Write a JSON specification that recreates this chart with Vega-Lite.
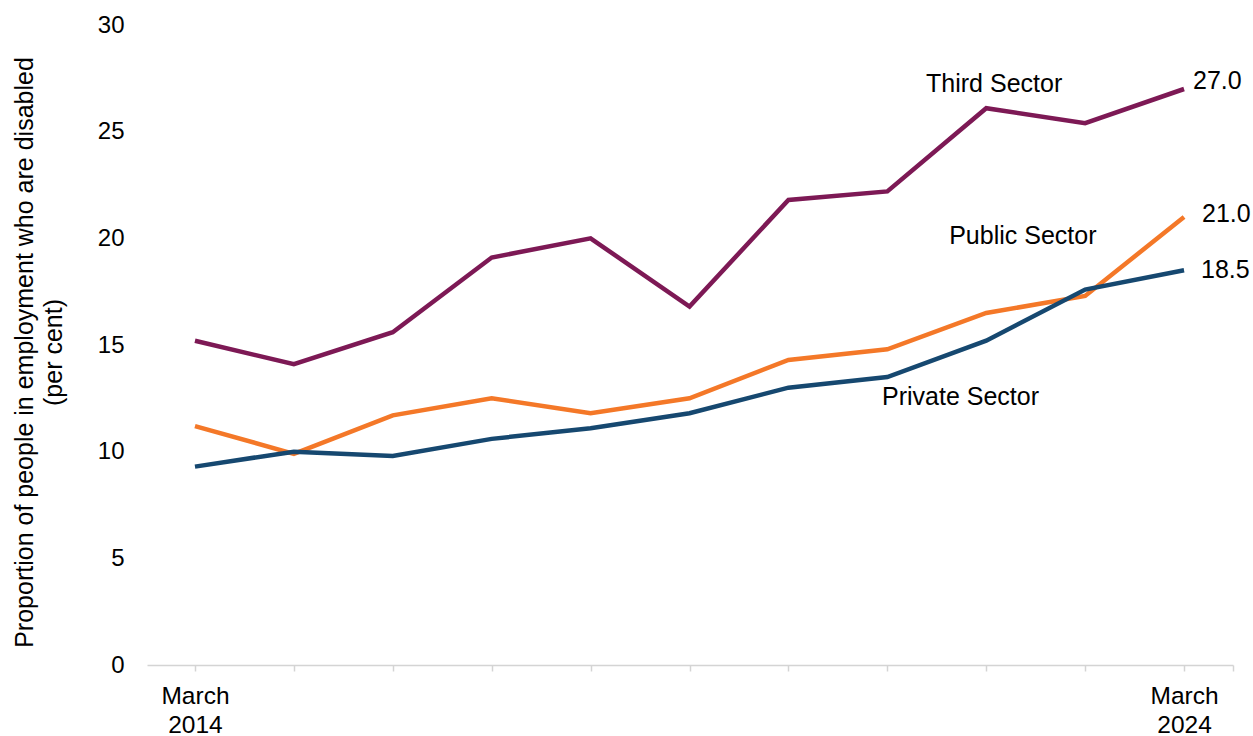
{
  "$schema": "https://vega.github.io/schema/vega-lite/v6.json",
  "width": 1086,
  "height": 640,
  "autosize": {"type": "none"},
  "padding": {"left": 147, "top": 25, "right": 20, "bottom": 71},
  "background": "white",
  "config": {
    "view": {"stroke": null},
    "font": "Liberation Sans",
    "axis": {"grid": false}
  },
  "datasets": {
    "series": [
      {"year": 2014, "sector": "Third Sector", "value": 15.2},
      {"year": 2015, "sector": "Third Sector", "value": 14.1},
      {"year": 2016, "sector": "Third Sector", "value": 15.6},
      {"year": 2017, "sector": "Third Sector", "value": 19.1},
      {"year": 2018, "sector": "Third Sector", "value": 20.0},
      {"year": 2019, "sector": "Third Sector", "value": 16.8},
      {"year": 2020, "sector": "Third Sector", "value": 21.8},
      {"year": 2021, "sector": "Third Sector", "value": 22.2},
      {"year": 2022, "sector": "Third Sector", "value": 26.1},
      {"year": 2023, "sector": "Third Sector", "value": 25.4},
      {"year": 2024, "sector": "Third Sector", "value": 27.0},
      {"year": 2014, "sector": "Public Sector", "value": 11.2},
      {"year": 2015, "sector": "Public Sector", "value": 9.9},
      {"year": 2016, "sector": "Public Sector", "value": 11.7},
      {"year": 2017, "sector": "Public Sector", "value": 12.5},
      {"year": 2018, "sector": "Public Sector", "value": 11.8},
      {"year": 2019, "sector": "Public Sector", "value": 12.5},
      {"year": 2020, "sector": "Public Sector", "value": 14.3},
      {"year": 2021, "sector": "Public Sector", "value": 14.8},
      {"year": 2022, "sector": "Public Sector", "value": 16.5},
      {"year": 2023, "sector": "Public Sector", "value": 17.3},
      {"year": 2024, "sector": "Public Sector", "value": 21.0},
      {"year": 2014, "sector": "Private Sector", "value": 9.3},
      {"year": 2015, "sector": "Private Sector", "value": 10.0},
      {"year": 2016, "sector": "Private Sector", "value": 9.8},
      {"year": 2017, "sector": "Private Sector", "value": 10.6},
      {"year": 2018, "sector": "Private Sector", "value": 11.1},
      {"year": 2019, "sector": "Private Sector", "value": 11.8},
      {"year": 2020, "sector": "Private Sector", "value": 13.0},
      {"year": 2021, "sector": "Private Sector", "value": 13.5},
      {"year": 2022, "sector": "Private Sector", "value": 15.2},
      {"year": 2023, "sector": "Private Sector", "value": 17.6},
      {"year": 2024, "sector": "Private Sector", "value": 18.5}
    ],
    "names": [
      {"label": "Third Sector", "year": 2022.08, "value": 26.86},
      {"label": "Public Sector", "year": 2022.37, "value": 19.73},
      {"label": "Private Sector", "year": 2021.74, "value": 12.19}
    ]
  },
  "layer": [
    {
      "data": {"name": "series"},
      "mark": {"type": "line", "strokeWidth": 4.5, "strokeJoin": "miter"},
      "encoding": {
        "x": {
          "field": "year",
          "type": "quantitative",
          "scale": {"domain": [2013.515, 2024.495], "nice": false, "zero": false},
          "axis": {
            "title": null,
            "values": [2014, 2015, 2016, 2017, 2018, 2019, 2020, 2021, 2022, 2023, 2024, 2024.495],
            "labelExpr": "datum.value == 2014 ? ['March', '2014'] : datum.value == 2024 ? ['March', '2024'] : ''",
            "domainColor": "#d4d4d4",
            "domainWidth": 1.5,
            "tickColor": "#d4d4d4",
            "tickWidth": 1.5,
            "tickSize": 6,
            "labelPadding": 13,
            "labelBaseline": "top",
            "labelLineHeight": 29,
            "labelFontSize": 24.5,
            "labelColor": "#000000",
            "labelOverlap": false,
            "labelFlush": false
          }
        },
        "y": {
          "field": "value",
          "type": "quantitative",
          "scale": {"domain": [0, 30], "nice": false},
          "axis": {
            "values": [0, 5, 10, 15, 20, 25, 30],
            "domain": false,
            "ticks": false,
            "tickSize": 0,
            "labelPadding": 23,
            "labelFontSize": 24,
            "labelColor": "#000000",
            "title": ["Proportion of people in employment who are disabled", "(per cent)"],
            "titleFontSize": 25,
            "titleFontWeight": "normal",
            "titleColor": "#000000",
            "titleAngle": -90,
            "titleBaseline": "alphabetic",
            "titleAlign": "center",
            "titleLineHeight": 29,
            "titleX": -115,
            "titleY": 327
          }
        },
        "color": {
          "field": "sector",
          "type": "nominal",
          "scale": {
            "domain": ["Third Sector", "Public Sector", "Private Sector"],
            "range": ["#7D1955", "#F47828", "#164870"]
          },
          "legend": null
        }
      }
    },
    {
      "data": {"name": "series"},
      "transform": [{"filter": "datum.year == 2024 && datum.sector == 'Third Sector'"}],
      "mark": {"type": "text", "align": "left", "baseline": "middle", "dx": 9, "dy": -8, "fontSize": 25, "color": "#000000"},
      "encoding": {
        "x": {"field": "year", "type": "quantitative"},
        "y": {"field": "value", "type": "quantitative"},
        "text": {"field": "value", "type": "quantitative", "format": ".1f"}
      }
    },
    {
      "data": {"name": "series"},
      "transform": [{"filter": "datum.year == 2024 && datum.sector == 'Public Sector'"}],
      "mark": {"type": "text", "align": "left", "baseline": "middle", "dx": 18, "dy": -3, "fontSize": 25, "color": "#000000"},
      "encoding": {
        "x": {"field": "year", "type": "quantitative"},
        "y": {"field": "value", "type": "quantitative"},
        "text": {"field": "value", "type": "quantitative", "format": ".1f"}
      }
    },
    {
      "data": {"name": "series"},
      "transform": [{"filter": "datum.year == 2024 && datum.sector == 'Private Sector'"}],
      "mark": {"type": "text", "align": "left", "baseline": "middle", "dx": 17, "dy": 0, "fontSize": 25, "color": "#000000"},
      "encoding": {
        "x": {"field": "year", "type": "quantitative"},
        "y": {"field": "value", "type": "quantitative"},
        "text": {"field": "value", "type": "quantitative", "format": ".1f"}
      }
    },
    {
      "data": {"name": "names"},
      "mark": {"type": "text", "align": "center", "baseline": "alphabetic", "fontSize": 25, "color": "#000000"},
      "encoding": {
        "x": {"field": "year", "type": "quantitative"},
        "y": {"field": "value", "type": "quantitative"},
        "text": {"field": "label", "type": "nominal"}
      }
    }
  ]
}
